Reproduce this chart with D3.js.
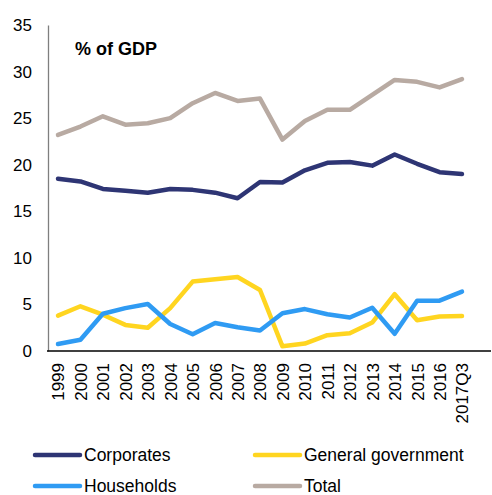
<!DOCTYPE html>
<html>
<head>
<meta charset="utf-8">
<script src="https://cdn.jsdelivr.net/npm/d3@7"></script>
<style>
  body { margin: 0; background: #fff; }
  svg { font-family: "Liberation Sans", Arial, sans-serif; }
</style>
</head>
<body>
<div id="chart"></div>
<script>
let width = 492
let height = 495

let years = ["1999","2000","2001","2002","2003","2004","2005","2006","2007","2008",
             "2009","2010","2011","2012","2013","2014","2015","2016","2017Q3"]

let corporates = [18.5,18.2,17.4,17.2,17.0,17.4,17.3,17.0,16.4,18.15,
                  18.1,19.4,20.2,20.3,19.9,21.1,20.1,19.2,19.0]
let government = [3.8,4.8,3.9,2.8,2.5,4.6,7.45,7.7,7.95,6.55,
                  0.5,0.8,1.7,1.9,3.05,6.1,3.3,3.7,3.76]
let households = [0.75,1.2,4.0,4.6,5.05,2.9,1.8,3.0,2.55,2.2,
                  4.05,4.5,3.95,3.6,4.65,1.85,5.4,5.4,6.37]
let total = [23.2,24.1,25.2,24.3,24.45,25.0,26.6,27.7,26.85,27.1,
             22.7,24.7,25.9,25.9,27.5,29.1,28.9,28.3,29.2]

let yTicks = [0,5,10,15,20,25,30,35]

let series = [
  {name: "Total", values: total, color: "#b8aaa2"},
  {name: "Corporates", values: corporates, color: "#2e3574"},
  {name: "General government", values: government, color: "#ffd520"},
  {name: "Households", values: households, color: "#2f9bf3"}
]

let legendItems = [
  {name: "Corporates", color: "#2e3574", col: 0, row: 0},
  {name: "General government", color: "#ffd520", col: 1, row: 0},
  {name: "Households", color: "#2f9bf3", col: 0, row: 1},
  {name: "Total", color: "#b8aaa2", col: 1, row: 1}
]

let svg = d3.select("#chart").append("svg")
  .attr("width", width)
  .attr("height", height)

let x = d3.scalePoint()
  .domain(years)
  .range([58, 462])

let y = d3.scaleLinear()
  .domain([0, 35])
  .range([351, 25])

// y axis
let yAxis = svg.append("g")
  .attr("transform", "translate(48,0)")
  .call(d3.axisLeft(y).tickValues(yTicks).tickSize(0).tickPadding(16))
yAxis.select(".domain").attr("stroke", "#7f7f7f").attr("stroke-width", 1.3)
yAxis.selectAll("text")
  .attr("font-size", 17)
  .attr("fill", "#000")
  .attr("font-family", "Liberation Sans, Arial, sans-serif")

// x axis
let xAxis = svg.append("g")
  .attr("transform", "translate(0,351)")
  .call(d3.axisBottom(x).tickSize(0))
xAxis.select(".domain").attr("d", "M47,0H491").attr("stroke", "#000").attr("stroke-width", 1.3)
xAxis.selectAll("text")
  .attr("font-size", 17)
  .attr("fill", "#000")
  .attr("font-family", "Liberation Sans, Arial, sans-serif")
  .attr("transform", "rotate(-90)")
  .attr("text-anchor", "end")
  .attr("x", -12)
  .attr("y", 0)
  .attr("dy", "0.35em")

svg.append("text")
  .attr("x", 75)
  .attr("y", 55)
  .attr("font-size", 18)
  .attr("font-weight", "bold")
  .text("% of GDP")

let line = d3.line()
  .x((d, i) => x(years[i]))
  .y(d => y(d))

svg.append("g")
  .selectAll("path")
  .data(series)
  .join("path")
  .attr("d", d => line(d.values))
  .attr("fill", "none")
  .attr("stroke", d => d.color)
  .attr("stroke-width", 4.5)
  .attr("stroke-linejoin", "round")
  .attr("stroke-linecap", "round")

// legend
let legend = svg.append("g")
  .selectAll("g")
  .data(legendItems)
  .join("g")
  .attr("transform", d => `translate(${35 + d.col * 220},${455 + d.row * 31})`)

legend.append("line")
  .attr("x1", 0).attr("x2", 45)
  .attr("stroke", d => d.color)
  .attr("stroke-width", 4.5)
  .attr("stroke-linecap", "round")

legend.append("text")
  .attr("x", 49)
  .attr("dy", "0.35em")
  .attr("font-size", 17.5)
  .text(d => d.name)
</script>
</body>
</html>
